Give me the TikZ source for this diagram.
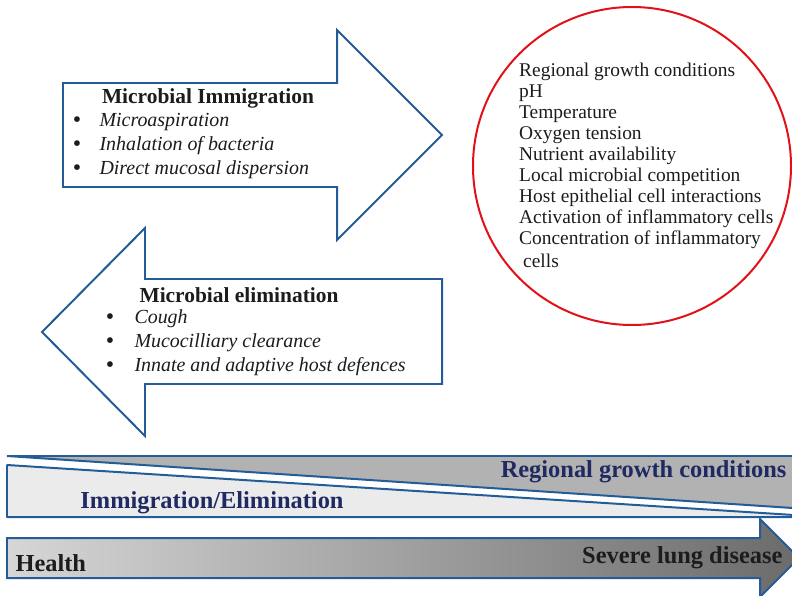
\documentclass[tikz,border=0pt]{standalone}
\usepackage{fontspec}
\setmainfont{Liberation Serif}
\definecolor{arrowblue}{RGB}{36,92,152}
\definecolor{navy}{RGB}{32,42,98}
\definecolor{ringred}{RGB}{226,16,24}
\definecolor{darktext}{RGB}{28,28,28}
\tikzset{
 flow/.style={draw=arrowblue,line width=2pt},
 head/.style={font=\fontsize{21.5}{22}\selectfont\bfseries,text=darktext},
 item/.style={font=\fontsize{20}{22}\selectfont\itshape,text=darktext,anchor=west},
 dot/.style={font=\fontsize{24}{24}\selectfont,text=darktext},
 factor/.style={font=\fontsize{19.5}{21}\selectfont,text=darktext,anchor=west,inner sep=0pt},
 barlabel/.style={font=\fontsize{24.5}{26}\selectfont\bfseries}
}
\begin{document}
\begin{tikzpicture}[x=1bp,y=-1bp]
 \useasboundingbox (0,0) rectangle (792,596);
 \draw[flow,fill=white] (63,83)--(337,83)--(337,30)--(442,135)--(337,240)--(337,187)--(63,187)--cycle;
 \draw[flow,fill=white] (442,279)--(145,279)--(145,228)--(42,332)--(145,436)--(145,384)--(442,384)--cycle;
 \draw[ringred,line width=2pt] (632,166) circle (159bp);
 \node[head] (imtitle) at (208,98) {Microbial Immigration};
 \foreach \t [count=\i] in {Microaspiration,Inhalation of bacteria,Direct mucosal dispersion}{
  \node[dot] (imdot\i) at (77,98+24*\i) {\textbullet};
  \node[item] (imitem\i) at (96,98+24*\i) {\t};}
 \node[head] (eltitle) at (239,295) {Microbial elimination};
 \foreach \t [count=\i] in {Cough,Mucocilliary clearance,Innate and adaptive host defences}{
  \node[dot] (eldot\i) at (110,295+24*\i) {\textbullet};
  \node[item] (elitem\i) at (131,295+24*\i) {\t};}
 \foreach \t [count=\i] in {Regional growth conditions,pH,Temperature,Oxygen tension,Nutrient availability,Local microbial competition,Host epithelial cell interactions,Activation of inflammatory cells,Concentration of inflammatory}{
  \node[factor] (fac\i) at (519,51+21*\i) {\t};}
 \node[factor] (fac10) at (523,261) {cells};
 \draw[flow,line join=bevel,fill=black!30] (7,456)--(800,456)--(800,508.5)--cycle;
 \draw[flow,line join=bevel,fill=black!8] (7,465)--(800,515.4)--(800,517)--(7,517)--cycle;
 \draw[flow,left color=black!16,right color=black!58] (7,538)--(760,538)--(760,519)--(799,558)--(760,597)--(760,578)--(7,578)--cycle;
 \node[barlabel,text=navy,anchor=east] (growth) at (790,472) {Regional growth conditions};
 \node[barlabel,text=navy] (immel) at (212,503) {Immigration/Elimination};
 \node[barlabel,text=darktext,anchor=west] (health) at (12,563) {Health};
 \node[barlabel,text=darktext,anchor=east] (severe) at (786,558) {Severe lung disease};
\end{tikzpicture}
\end{document}
